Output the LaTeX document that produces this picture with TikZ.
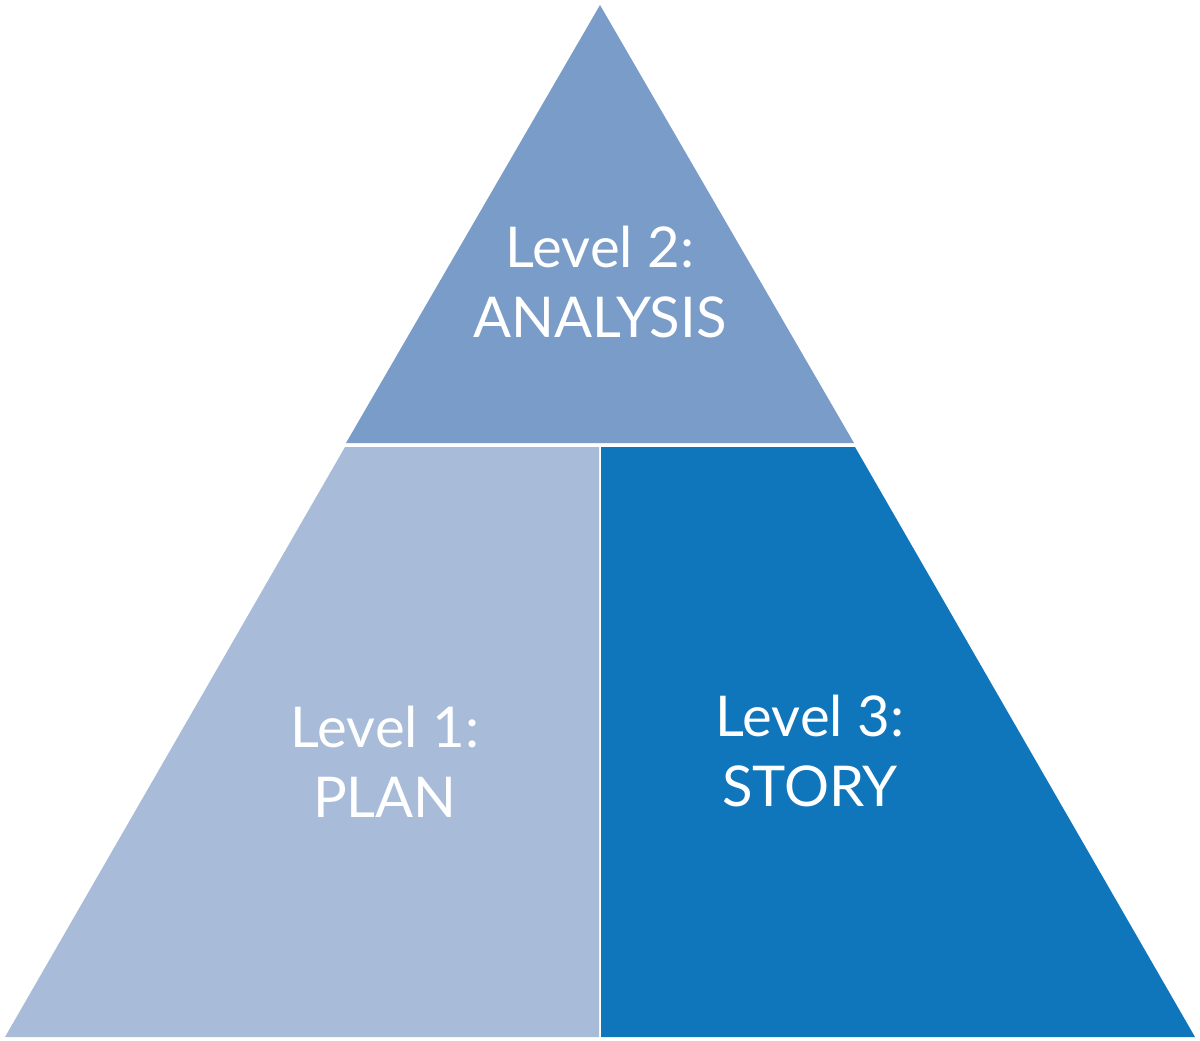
\documentclass[tikz,border=0pt]{standalone}
\usepackage{fontspec}
\setmainfont{Lato}
\definecolor{topblue}{HTML}{7A9CC8}
\definecolor{leftblue}{HTML}{A8BBD9}
\definecolor{rightblue}{HTML}{1076BB}
\begin{document}
\begin{tikzpicture}[x=0.025cm,y=-0.025cm]
\tikzstyle{piece}=[draw=none]
\tikzstyle{lvl}=[text=white,align=center,inner sep=0pt,font=\fontsize{40}{50}\selectfont]
\useasboundingbox (0,0) rectangle (1200,1040);
\fill[white] (0,0) rectangle (1200,1040);

\fill[piece,topblue] (600,5) -- (854,443) -- (346,443) -- cycle;
\fill[piece,leftblue] (345,447) -- (599,447) -- (599,1037) -- (5,1037) -- cycle;
\fill[piece,rightblue] (601,447) -- (855,447) -- (1195,1037) -- (601,1037) -- cycle;

\node[lvl](L2) at (600,282) {Level 2:\\ANALYSIS};
\node[lvl](L1) at (385,762) {Level 1:\\PLAN};
\node[lvl](L3) at (810,751) {Level 3:\\STORY};

\end{tikzpicture}
\end{document}
